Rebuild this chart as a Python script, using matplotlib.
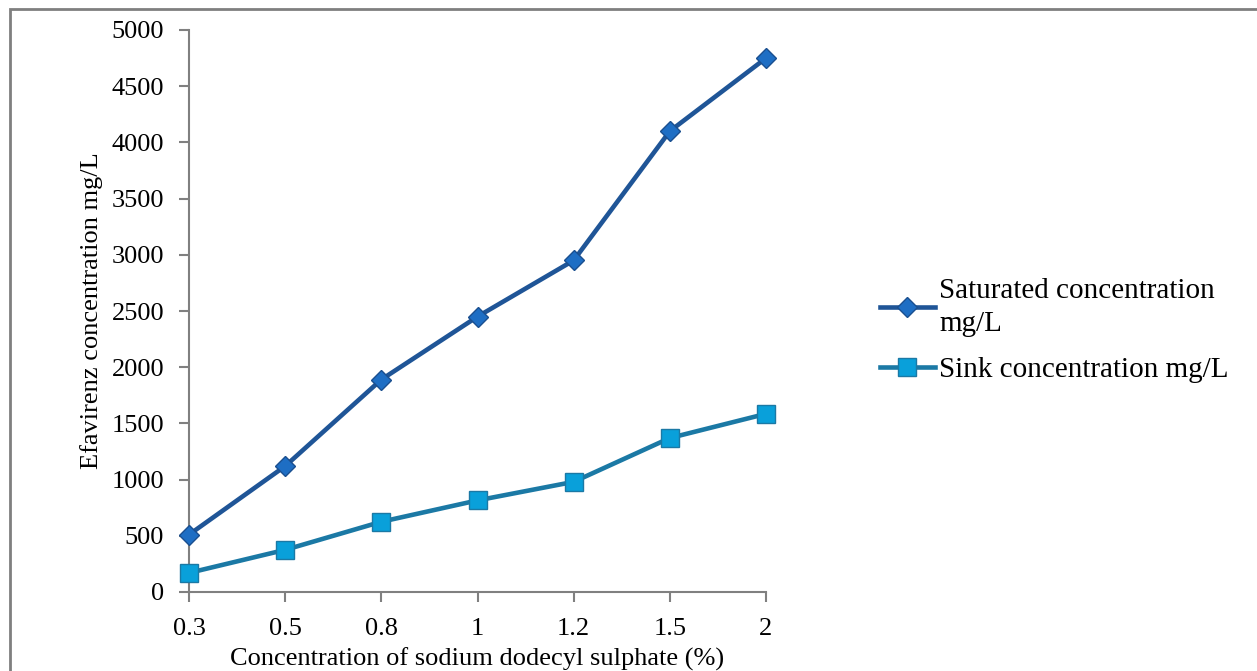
import matplotlib.pyplot as plt
from matplotlib.patches import Rectangle

# ------------------- Data -------------------
sds_conc = ["0.3", "0.5", "0.8", "1", "1.2", "1.5", "2"]
saturated = [510, 1120, 1890, 2450, 2950, 4100, 4750]
sink = [170, 375, 625, 815, 980, 1370, 1585]
y_ticks = [0, 500, 1000, 1500, 2000, 2500, 3000, 3500, 4000, 4500, 5000]

plt.rcParams['font.family'] = ['Liberation Serif', 'DejaVu Serif']

fig = plt.figure(figsize=(12.57, 6.71), dpi=100)
ax = fig.add_axes([189 / 1257, 79 / 671, 577 / 1257, 562 / 671])

x = list(range(len(sds_conc)))
ax.plot(x, saturated, color='#1F5597', lw=3.3, marker='D', markersize=10,
        markerfacecolor='#1E6EC4', markeredgecolor='#1A4F8F', markeredgewidth=1,
        label="Saturated concentration\nmg/L", clip_on=False, zorder=3)
ax.plot(x, sink, color='#1B79A5', lw=3.3, marker='s', markersize=13,
        markerfacecolor='#09A0DA', markeredgecolor='#1B79A5', markeredgewidth=1,
        label="Sink concentration mg/L", clip_on=False, zorder=3)

ax.set_xlim(0, len(sds_conc) - 1)
ax.set_ylim(0, 5000)
ax.set_xticks(x)
ax.set_xticklabels(sds_conc)
ax.set_yticks(y_ticks)
ax.tick_params(axis='both', labelsize=19, direction='out', length=7,
               width=1.5, color='#808080')
ax.tick_params(axis='y', pad=11)
ax.tick_params(axis='x', pad=12)

for side in ['top', 'right']:
    ax.spines[side].set_visible(False)
for side in ['left', 'bottom']:
    ax.spines[side].set_color('#808080')
    ax.spines[side].set_linewidth(1.5)

ax.set_xlabel("Concentration of sodium dodecyl sulphate (%)", fontsize=19, labelpad=5)
ax.set_ylabel("Efavirenz concentration mg/L", fontsize=19, labelpad=6)

leg = fig.legend(loc='upper left', bbox_to_anchor=(865 / 1257, 1 - 263 / 671),
                 frameon=False, fontsize=21, handlelength=1.9, handletextpad=0.15,
                 labelspacing=0.7, borderpad=0)
for t in leg.get_texts():
    t.set_linespacing(1.35)

# outer chart frame (cropped at right/bottom)
fig.patches.append(Rectangle((10 / 1257, -0.2), 1.2, 1.2 - 9 / 671,
                             transform=fig.transFigure, fill=False,
                             edgecolor='#7F7F7F', lw=2))

fig.savefig("out.png", dpi=100)
